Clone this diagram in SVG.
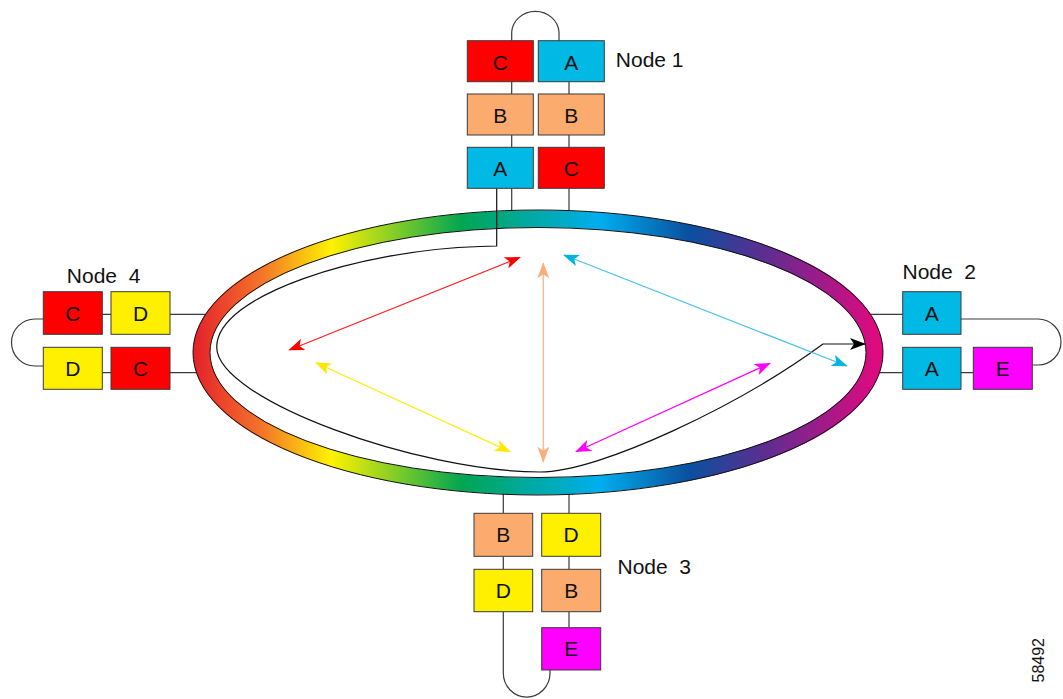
<svg xmlns="http://www.w3.org/2000/svg" width="1063" height="699" viewBox="0 0 1063 699">
<style>
.box{stroke:#3a3a3a;stroke-width:1}
.c{fill:#ff0000}.a{fill:#00b9e4}.b{fill:#fcab6e}.d{fill:#fff000}.e{fill:#ff00ff}
.t{font-family:"Liberation Sans",Arial,sans-serif;font-size:21px;fill:#111}
.m{text-anchor:middle}
.wire{fill:none;stroke:#3a3a3a;stroke-width:1.2}
.arr{fill:none;stroke-width:1.2}
</style>
<defs>
<linearGradient id="rg" gradientUnits="userSpaceOnUse" x1="193" y1="0" x2="883" y2="0">
<stop offset="0" stop-color="#e4202a"/>
<stop offset="0.1" stop-color="#f3752a"/>
<stop offset="0.2" stop-color="#fff200"/>
<stop offset="0.39" stop-color="#00a651"/>
<stop offset="0.48" stop-color="#00a99b"/>
<stop offset="0.59" stop-color="#00aeef"/>
<stop offset="0.72" stop-color="#0a4f9e"/>
<stop offset="0.83" stop-color="#5e2d90"/>
<stop offset="1" stop-color="#e6087f"/>
</linearGradient>
<marker id="mr" markerUnits="userSpaceOnUse" markerWidth="16" markerHeight="12" refX="15" refY="6" orient="auto-start-reverse"><path d="M0,0 L16,6 L0,12 L4,6 Z" fill="#ff0000"/></marker>
<marker id="my" markerUnits="userSpaceOnUse" markerWidth="16" markerHeight="12" refX="15" refY="6" orient="auto-start-reverse"><path d="M0,0 L16,6 L0,12 L4,6 Z" fill="#ffe800"/></marker>
<marker id="mp" markerUnits="userSpaceOnUse" markerWidth="16" markerHeight="12" refX="15" refY="6" orient="auto-start-reverse"><path d="M0,0 L16,6 L0,12 L4,6 Z" fill="#fbae78"/></marker>
<marker id="mc" markerUnits="userSpaceOnUse" markerWidth="16" markerHeight="12" refX="15" refY="6" orient="auto-start-reverse"><path d="M0,0 L16,6 L0,12 L4,6 Z" fill="#00b4e0"/></marker>
<marker id="mm" markerUnits="userSpaceOnUse" markerWidth="16" markerHeight="12" refX="15" refY="6" orient="auto-start-reverse"><path d="M0,0 L16,6 L0,12 L4,6 Z" fill="#ff00ff"/></marker>
<marker id="mk" markerUnits="userSpaceOnUse" markerWidth="16" markerHeight="12" refX="15" refY="6" orient="auto"><path d="M0,0 L16,6 L0,12 L4,6 Z" fill="#000"/></marker>
</defs>
<rect width="1063" height="699" fill="#fff"/>

<g id="connectors">
<!-- node 1 -->
<path class="wire" d="M511.7,40.7 V32 A23.7,22 0 0 1 559,32 V40.7"/>
<path class="wire" d="M511.7,81.7 V94 M511.7,135 V147.3 M511.7,188.3 V218"/>
<path class="wire" d="M569,81.7 V94 M569,135 V147.3 M569,188.3 V218"/>
<!-- node 4 -->
<path class="wire" d="M43.3,319 H35 A23.5,23.5 0 0 0 35,366 H43.3"/>
<path class="wire" d="M102.3,314.3 H111 M170,314.3 H212 M102.3,372.7 H111 M170,372.7 H205"/>
<!-- node 2 -->
<path class="wire" d="M961,319 H1038 A23,23 0 0 1 1038,365 H1032.3"/>
<path class="wire" d="M865,314.3 H902.7 M872,372.7 H902.7 M961,372.7 H973.3"/>
<!-- node 3 -->
<path class="wire" d="M503.3,488 V513.3 M503.3,556.3 V569.3 M503.3,611.7 V673 A23.3,24 0 0 0 550,673 V670"/>
<path class="wire" d="M569,488 V513.3 M569,556.3 V569.3 M569,611.7 V627.7"/>
</g>

<g id="ring">
<ellipse cx="538" cy="352.5" rx="336.5" ry="133.75" fill="none" stroke="url(#rg)" stroke-width="17"/>
<ellipse cx="538" cy="352.5" rx="345" ry="142.5" fill="none" stroke="#111" stroke-width="1"/>
<ellipse cx="538" cy="352.5" rx="328" ry="125" fill="none" stroke="#111" stroke-width="1"/>
</g>

<g id="paths">
<path d="M496.7,188.3 V246 L480,246.5 C360,250 217,295 216.7,347 C217,400 420,472 540,472 C600,472 740,405 823,344 H865" fill="none" stroke="#111" stroke-width="1.2" marker-end="url(#mk)"/>
<line class="arr" x1="289.3" y1="350" x2="520" y2="257.3" stroke="#ff2020" marker-start="url(#mr)" marker-end="url(#mr)"/>
<line class="arr" x1="316" y1="362.7" x2="510" y2="451.7" stroke="#ffec00" marker-start="url(#my)" marker-end="url(#my)"/>
<line class="arr" x1="543.3" y1="263.3" x2="543.3" y2="461.7" stroke="#fbb17f" stroke-width="1.8" marker-start="url(#mp)" marker-end="url(#mp)"/>
<line class="arr" x1="564" y1="255" x2="846.7" y2="366" stroke="#45c3ee" marker-start="url(#mc)" marker-end="url(#mc)"/>
<line class="arr" x1="576" y1="451.7" x2="770" y2="363.3" stroke="#ff00ff" marker-start="url(#mm)" marker-end="url(#mm)"/>
</g>

<g id="node1">
<rect class="box c" x="467.3" y="40.7" width="66" height="41"/>
<rect class="box a" x="538.3" y="40.7" width="66" height="41"/>
<rect class="box b" x="467.3" y="94" width="66" height="41"/>
<rect class="box b" x="538.3" y="94" width="66" height="41"/>
<rect class="box a" x="467.3" y="147.3" width="66" height="41"/>
<rect class="box c" x="538.3" y="147.3" width="66" height="41"/>
<text class="t m" x="500.3" y="69.5">C</text>
<text class="t m" x="571.3" y="69.5">A</text>
<text class="t m" x="500.3" y="122.8">B</text>
<text class="t m" x="571.3" y="122.8">B</text>
<text class="t m" x="500.3" y="176.1">A</text>
<text class="t m" x="571.3" y="176.1">C</text>
<text class="t" x="615.8" y="66.7">Node 1</text>
</g>

<g id="node2">
<rect class="box a" x="902.7" y="291.7" width="58.3" height="42.6"/>
<rect class="box a" x="902.7" y="347.3" width="58.3" height="42"/>
<rect class="box e" x="973.3" y="347.3" width="59" height="42"/>
<text class="t m" x="931.8" y="320.5">A</text>
<text class="t m" x="931.8" y="375.8">A</text>
<text class="t m" x="1002.8" y="375.8">E</text>
<text class="t" x="902.5" y="279.3" xml:space="preserve">Node  2</text>
</g>

<g id="node3">
<rect class="box b" x="474" y="513.3" width="58.7" height="43"/>
<rect class="box d" x="541.7" y="513.3" width="59" height="43"/>
<rect class="box d" x="474" y="569.3" width="58.7" height="42.4"/>
<rect class="box b" x="541.7" y="569.3" width="59" height="42.4"/>
<rect class="box e" x="541.7" y="627.7" width="59" height="42.3"/>
<text class="t m" x="503.3" y="542.3">B</text>
<text class="t m" x="571.2" y="542.3">D</text>
<text class="t m" x="503.3" y="598">D</text>
<text class="t m" x="571.2" y="598">B</text>
<text class="t m" x="571.2" y="656.3">E</text>
<text class="t" x="617.5" y="574.3" xml:space="preserve">Node  3</text>
</g>

<g id="node4">
<rect class="box c" x="43.3" y="291.7" width="59" height="42.6"/>
<rect class="box d" x="111" y="291.7" width="59" height="42.6"/>
<rect class="box d" x="43.3" y="347.3" width="59" height="42"/>
<rect class="box c" x="111" y="347.3" width="59" height="42"/>
<text class="t m" x="72.8" y="320.5">C</text>
<text class="t m" x="140.5" y="320.5">D</text>
<text class="t m" x="72.8" y="375.8">D</text>
<text class="t m" x="140.5" y="375.8">C</text>
<text class="t" x="66.8" y="283.3" xml:space="preserve">Node  4</text>
</g>

<text transform="translate(1044,682.5) rotate(-90)" style="font-family:'Liberation Sans',Arial,sans-serif;font-size:16px;fill:#111">58492</text>
</svg>
